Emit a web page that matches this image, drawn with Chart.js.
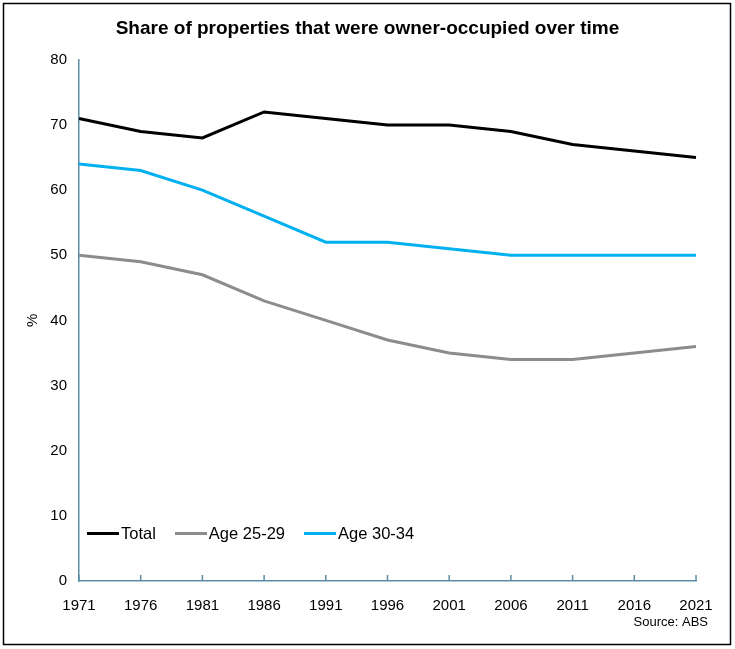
<!DOCTYPE html>
<html>
<head>
<meta charset="utf-8">
<script src="https://cdn.jsdelivr.net/npm/chart.js@4"></script>
<style>
  body { margin: 0; background: #fff; }
  #wrap { position: relative; width: 735px; height: 649px; font-family: "Liberation Sans", Arial, sans-serif; }
  #legend { position: absolute; left: 87px; top: 524px; display: flex; font-size: 16.5px; color: #000; }
  .item { display: flex; align-items: center; margin-right: 19px; }
  .swatch { width: 32px; height: 3px; margin-right: 2px; }
</style>
</head>
<body>
<div id="wrap">
  <canvas id="chart" width="735" height="649"></canvas>
  <div id="legend"></div>
</div>
<script>
// years on the x axis
const years = ['1971', '1976', '1981', '1986', '1991', '1996', '2001', '2006', '2011', '2016', '2021'];

// % owner-occupied
const total = [71, 69, 68, 72, 71, 70, 70, 69, 67, 66, 65];
const age2529 = [50, 49, 47, 43, 40, 37, 35, 34, 34, 35, 36];
const age3034 = [64, 63, 60, 56, 52, 52, 51, 50, 50, 50, 50];

const axisColor = '#5b8ea6';
const font = '"Liberation Sans", Arial, sans-serif';

// tick marks on the x axis point up into the plot, plus the frame and the source note
const extras = {
    id: 'extras',
    afterDraw(chart) {
        const ctx = chart.ctx;
        const x = chart.scales.x;
        const bottom = chart.chartArea.bottom;
        ctx.save();
        ctx.strokeStyle = axisColor;
        ctx.lineWidth = 1.5;
        x.ticks.forEach((t, i) => {
            const px = x.getPixelForTick(i);
            ctx.beginPath();
            ctx.moveTo(px, bottom);
            ctx.lineTo(px, bottom - 6);
            ctx.stroke();
        });
        ctx.fillStyle = '#000';
        ctx.font = '13px ' + font;
        ctx.textAlign = 'right';
        ctx.textBaseline = 'middle';
        ctx.fillText('Source: ABS', 708, 622);
        ctx.strokeStyle = '#000';
        ctx.lineWidth = 1.5;
        ctx.strokeRect(3.5, 3.5, 727, 641);
        ctx.restore();
    }
};

const chart = new Chart(document.getElementById('chart'), {
    type: 'line',
    data: {
        labels: years,
        datasets: [
            { label: 'Total', data: total, borderColor: '#000000' },
            { label: 'Age 25-29', data: age2529, borderColor: '#8c8c8c' },
            { label: 'Age 30-34', data: age3034, borderColor: '#00b0f0' }
        ]
    },
    options: {
        responsive: false,
        animation: false,
        elements: {
            line: { borderWidth: 3, tension: 0 },
            point: { radius: 0 }
        },
        layout: { padding: { left: 0, right: 0, top: 0, bottom: 28 } },
        plugins: {
            legend: { display: false },
            tooltip: { enabled: false },
            title: {
                display: true,
                text: 'Share of properties that were owner-occupied over time',
                color: '#000',
                font: { family: font, size: 19, weight: 'bold' },
                padding: { top: 17, bottom: 20 }
            }
        },
        scales: {
            x: {
                offset: false,
                grid: { drawOnChartArea: false, drawTicks: false },
                border: { color: axisColor, width: 1.5 },
                ticks: {
                    color: '#000',
                    padding: 16,
                    maxRotation: 0,
                    autoSkip: false,
                    font: { family: font, size: 15 }
                },
                afterFit(scale) { scale.height = 40; }
            },
            y: {
                min: 0,
                max: 80,
                grid: { drawOnChartArea: false, drawTicks: false },
                border: { color: axisColor, width: 1.5 },
                ticks: {
                    stepSize: 10,
                    color: '#000',
                    padding: 12,
                    font: { family: font, size: 15 }
                },
                title: {
                    display: true,
                    text: '%',
                    color: '#000',
                    font: { family: font, size: 15 },
                    padding: { top: 24, bottom: 0 }
                },
                afterFit(scale) { scale.width = 79; }
            },
            // empty right-hand axis, only keeps the space right of the plot
            yRight: {
                position: 'right',
                min: 0,
                max: 80,
                grid: { display: false, drawOnChartArea: false, drawTicks: false },
                border: { display: false },
                ticks: { display: false },
                afterFit(scale) { scale.width = 39; }
            }
        }
    },
    plugins: [extras]
});

// legend built from the datasets, placed inside the plot like the original
const legendEl = document.getElementById('legend');
chart.data.datasets.forEach(ds => {
    const item = document.createElement('div');
    item.className = 'item';
    const sw = document.createElement('span');
    sw.className = 'swatch';
    sw.style.background = ds.borderColor;
    const txt = document.createElement('span');
    txt.textContent = ds.label;
    item.appendChild(sw);
    item.appendChild(txt);
    legendEl.appendChild(item);
});
</script>
</body>
</html>
